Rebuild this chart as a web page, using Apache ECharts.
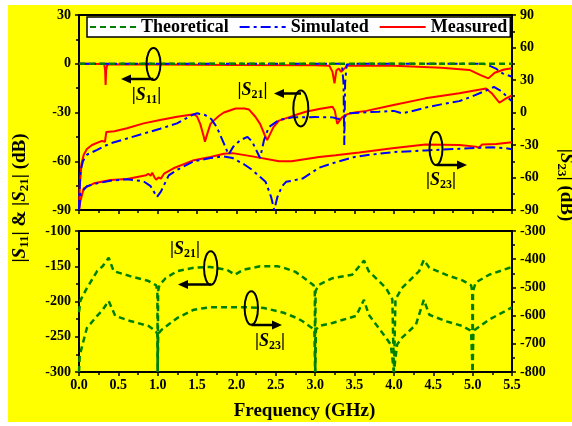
<!DOCTYPE html>
<html><head><meta charset="utf-8">
<script src="https://cdn.jsdelivr.net/npm/echarts@6/dist/echarts.min.js"></script>
<style>
html,body{margin:0;padding:0;background:#fff;width:572px;height:426px;overflow:hidden}
#bg{position:absolute;left:8px;top:5px;width:564px;height:417px;background:#ffff00}
#chart{position:absolute;left:0;top:0;width:572px;height:426px}
</style></head><body><div id="bg"></div><div id="chart"></div>
<script>
// ---------- data: [frequency (GHz), dB] ----------
const legendNames = ['Theoretical', 'Simulated', 'Measured'];

const s11Theory = [[0,0],[5.5,0]];
const s11Sim = [[0,0],[3.3,0],[3.34,-0.5],[3.36,-12],[3.37,-50],[3.38,-12],[3.40,-0.5],[3.5,0],[5.05,0],[5.17,-0.3],[5.29,-2.8],[5.38,-5.9],[5.5,-8]];
const s11Meas = [[0,0],[0.32,-0.2],[0.332,-4],[0.338,-13],[0.345,-4],[0.36,-0.3],[1,-0.4],[2,-0.8],[3.0,-0.9],[3.18,-1.2],[3.22,-5],[3.245,-12],[3.27,-4],[3.3,-3],[3.33,-5],[3.37,-3],[3.41,-1.2],[4,-1.3],[4.6,-2.4],[4.96,-3.8],[5.1,-7],[5.2,-9],[5.28,-5.5],[5.4,-3.5],[5.5,-2.8]];

const s21Sim = [[0,-90],[0.005,-80],[0.02,-66],[0.05,-60],[0.1,-56],[0.23,-53],[0.33,-50.5],[0.4,-49],[0.61,-46],[0.82,-43],[1.03,-40],[1.245,-36.7],[1.44,-31.5],[1.5,-30.5],[1.6,-31.5],[1.68,-34],[1.75,-39],[1.84,-49],[1.9,-56],[1.96,-51],[2.05,-47],[2.14,-45],[2.2,-48],[2.3,-58],[2.35,-47],[2.41,-39],[2.54,-34.6],[2.71,-33],[3.0,-32.8],[3.22,-33],[3.3,-34],[3.36,-33],[3.43,-30.5],[3.6,-30],[3.81,-29.5],[4.0,-29],[4.1,-30.5],[4.2,-29.5],[4.4,-27],[4.6,-25],[4.83,-23],[5.0,-20],[5.17,-16.5],[5.27,-14.3],[5.37,-17],[5.45,-21],[5.5,-23]];
const s21Meas = [[0,-90],[0.01,-75],[0.03,-62],[0.06,-56],[0.1,-52.5],[0.165,-50],[0.29,-47.5],[0.33,-48],[0.34,-48.5],[0.347,-42],[0.37,-42.5],[0.45,-41.5],[0.61,-39.7],[0.82,-36.7],[1.03,-34.6],[1.245,-32.6],[1.46,-31.1],[1.5,-32.5],[1.54,-37],[1.58,-44],[1.6,-48],[1.63,-43],[1.67,-37],[1.71,-35],[1.78,-32],[1.84,-30],[1.99,-27.5],[2.1,-27.5],[2.16,-28.2],[2.24,-32.6],[2.3,-37],[2.36,-44],[2.39,-47],[2.43,-43],[2.47,-39],[2.54,-35],[2.71,-32.2],[2.88,-29.5],[3.05,-27.8],[3.22,-26.4],[3.25,-29],[3.28,-37],[3.31,-35],[3.34,-33],[3.41,-31],[3.5,-30],[3.65,-29],[3.98,-25.5],[4.4,-21.3],[4.83,-18.2],[5.17,-15.2],[5.25,-18.5],[5.34,-24],[5.42,-21.5],[5.5,-19.5]];

const s23Sim = [[0,-90],[0.02,-75],[0.1,-68],[0.23,-65.4],[0.4,-63],[0.61,-61.6],[0.82,-63.5],[0.91,-68],[0.99,-78],[1.04,-73],[1.08,-67],[1.14,-58],[1.245,-53],[1.46,-45],[1.67,-42],[1.84,-40.5],[1.95,-42],[2.1,-48],[2.2,-53],[2.37,-64],[2.44,-78],[2.48,-90],[2.52,-78],[2.58,-68],[2.63,-64],[2.84,-61],[3.05,-51],[3.26,-46],[3.5,-41],[3.7,-39],[4.0,-36.5],[4.4,-35],[4.83,-33.5],[5.25,-32],[5.42,-33],[5.5,-34]];
const s23Meas = [[0,-90],[0.017,-82],[0.06,-70],[0.19,-65.4],[0.4,-62.3],[0.61,-61.4],[0.82,-58.3],[0.85,-58],[0.88,-56.5],[0.91,-58.5],[0.93,-55.5],[0.96,-60],[0.98,-62],[1.01,-60],[1.04,-61],[1.08,-56.5],[1.2,-51.5],[1.46,-44],[1.67,-41],[1.84,-38],[1.95,-37.5],[2.2,-40.5],[2.54,-45],[2.7,-45],[3.05,-41],[3.26,-39.5],[3.56,-37],[3.98,-33],[4.4,-29.5],[4.83,-30],[5.04,-31.5],[5.08,-32.5],[5.12,-29.5],[5.3,-29],[5.5,-27.5]];

const s21TheoryLow = [[0,-215],[0.02,-198],[0.1,-181],[0.23,-157],[0.3,-150],[0.377,-138],[0.44,-157],[0.65,-164],[0.885,-171],[0.98,-177],[0.995,-185],[1.0,-300],[1.005,-185],[1.02,-177],[1.1,-167],[1.245,-157],[1.46,-152],[1.67,-151],[1.88,-155],[1.98,-162],[2.09,-155],[2.3,-150],[2.52,-150],[2.6,-152],[2.75,-158],[2.85,-166],[2.98,-177],[2.995,-185],[3.0,-300],[3.005,-185],[3.05,-176],[3.22,-167],[3.47,-162],[3.62,-142],[3.68,-157],[3.9,-181],[3.98,-197],[4.0,-300],[4.02,-197],[4.1,-181],[4.32,-157],[4.38,-141],[4.45,-152],[4.66,-162],[4.87,-170],[4.98,-177],[4.995,-185],[5.0,-300],[5.005,-185],[5.04,-173],[5.21,-162],[5.5,-151]];
const s23TheoryLow = [[0,-800],[0.01,-740],[0.1,-644],[0.23,-601],[0.3,-580],[0.377,-548],[0.46,-601],[0.65,-619],[0.885,-637],[0.97,-654],[0.995,-665],[1.0,-800],[1.005,-665],[1.05,-650],[1.245,-609],[1.46,-579],[1.67,-570],[2.09,-570],[2.35,-573],[2.6,-590],[2.77,-609],[2.84,-620],[2.99,-650],[3.0,-800],[3.01,-650],[3.05,-637],[3.22,-626],[3.52,-601],[3.62,-544],[3.68,-597],[3.9,-679],[3.96,-703],[4.0,-800],[4.04,-703],[4.1,-679],[4.28,-632],[4.38,-544],[4.45,-597],[4.66,-620],[4.87,-637],[4.98,-654],[5.0,-800],[5.01,-654],[5.06,-644],[5.21,-614],[5.5,-571]];

// ---------- styling ----------
const FONT = 'Liberation Serif';
const GREEN = '#008000', BLUE = '#0000ff', RED = '#ff0000';
const DASH = [6, 4], DASHDOT = [10, 4, 3, 4];

function mk(name, data, gi, yi, color, type, width, z) {
  return { name, type: 'line', data, xAxisIndex: gi, yAxisIndex: yi, symbol: 'none',
    showSymbol: false, z: z, animation: false, color,
    lineStyle: { color, type, width } };
}

const tickStyle = { color: '#000', width: 1.5 };
function xAx(gi, showLabel) {
  return { type: 'value', gridIndex: gi, min: 0, max: 5.5, interval: 0.5,
    splitLine: { show: false },
    axisLine: { onZero: false, lineStyle: { color: '#000', width: 2 } },
    axisTick: { length: 4, lineStyle: tickStyle },
    minorTick: { show: true, splitNumber: 2, length: 3, lineStyle: tickStyle },
    axisLabel: { show: showLabel, formatter: v => v.toFixed(1), color: '#000',
      fontFamily: FONT, fontWeight: 'bold', fontSize: 14, margin: 6 } };
}
function yAx(gi, pos, min, max, interval) {
  return { type: 'value', gridIndex: gi, position: pos, min, max, interval,
    splitLine: { show: false },
    axisLine: { show: true, onZero: false, lineStyle: { color: '#000', width: 2 } },
    axisTick: { show: true, length: 4, lineStyle: tickStyle },
    minorTick: { show: true, splitNumber: 2, length: 3, lineStyle: tickStyle },
    axisLabel: { color: '#000', fontFamily: FONT, fontWeight: 'bold', fontSize: 14, margin: 8 } };
}

// ---------- annotations (ellipse + arrow + label) ----------
const annots = [
  { cx: 153.5, cy: 64, rx: 7, ry: 16, ay: 79, ax0: 153.5, ax1: 121, sub: '11', lx: 146.5, ly: 95 },
  { cx: 300.8, cy: 108.5, rx: 7.5, ry: 18, ay: 93.5, ax0: 301, ax1: 274, sub: '21', lx: 252.5, ly: 90 },
  { cx: 436, cy: 148.5, rx: 6.5, ry: 16.5, ay: 165, ax0: 436.5, ax1: 467, sub: '23', lx: 441, ly: 180 },
  { cx: 210.7, cy: 268, rx: 6.7, ry: 16.7, ay: 284.5, ax0: 211, ax1: 178, sub: '21', lx: 185, ly: 249 },
  { cx: 251.3, cy: 308, rx: 6.7, ry: 16.7, ay: 325, ax0: 251.5, ax1: 282, sub: '23', lx: 270, ly: 341 }
];
const richS = (size, sub) => ({
  s: { fontFamily: FONT, fontWeight: 'bold', fontStyle: 'italic', fontSize: size, lineHeight: size + 4, fill: '#000' },
  b: { fontFamily: FONT, fontWeight: 'bold', fontSize: sub, lineHeight: sub + 2, verticalAlign: 'bottom', fill: '#000' },
  n: { fontFamily: FONT, fontWeight: 'bold', fontSize: size, lineHeight: size + 4, fill: '#000' }
});
const graphics = [];
annots.forEach(a => {
  graphics.push({ type: 'ellipse', z: 50, shape: { cx: a.cx, cy: a.cy, rx: a.rx, ry: a.ry },
    style: { fill: 'transparent', stroke: '#000', lineWidth: 2 } });
  const dir = a.ax1 > a.ax0 ? 1 : -1;
  graphics.push({ type: 'line', z: 50, shape: { x1: a.ax0, y1: a.ay, x2: a.ax1 - dir * 6, y2: a.ay },
    style: { stroke: '#000', lineWidth: 2.5 } });
  graphics.push({ type: 'polygon', z: 50,
    shape: { points: [[a.ax1, a.ay], [a.ax1 - dir * 10, a.ay - 4.5], [a.ax1 - dir * 10, a.ay + 4.5]] },
    style: { fill: '#000' } });
  graphics.push({ type: 'text', z: 50, x: a.lx, y: a.ly,
    style: { text: '{n||}{s|S}{b|' + a.sub + '}{n||}', rich: richS(18, 12),
      fontFamily: FONT, fontWeight: 'bold', fontSize: 18, fill: '#000', align: 'center', verticalAlign: 'middle' } });
});
// axis titles
graphics.push({ type: 'text', z: 50, x: 20, y: 198, rotation: Math.PI / 2,
  style: { text: '{n||}{s|S}{b|11}{n|| & |}{s|S}{b|21}{n|| (dB)}', rich: richS(19, 13),
    fontFamily: FONT, fontWeight: 'bold', fontSize: 19, fill: '#000', align: 'center', verticalAlign: 'middle' } });
graphics.push({ type: 'text', z: 50, x: 566, y: 185, rotation: -Math.PI / 2,
  style: { text: '{n||}{s|S}{b|23}{n|| (dB)}', rich: richS(19, 13),
    fontFamily: FONT, fontWeight: 'bold', fontSize: 19, fill: '#000', align: 'center', verticalAlign: 'middle' } });
graphics.push({ type: 'text', z: 50, x: 304.5, y: 411,
  style: { text: 'Frequency (GHz)', fontFamily: FONT, fontWeight: 'bold', fontSize: 19, fill: '#000',
    align: 'center', verticalAlign: 'middle' } });

const chart = echarts.init(document.getElementById('chart'), null, { renderer: 'canvas' });
chart.setOption({
  animation: false,
  backgroundColor: 'transparent',
  grid: [
    { left: 79, right: 60, top: 15, height: 195, show: true, borderColor: '#000', borderWidth: 2, backgroundColor: 'transparent' },
    { left: 79, right: 60, top: 231, height: 141, show: true, borderColor: '#000', borderWidth: 2, backgroundColor: 'transparent' }
  ],
  legend: {
    data: legendNames, left: 87, top: 17, orient: 'horizontal',
    backgroundColor: '#fff', borderColor: '#000', borderWidth: 1.5, padding: [1, 3, 1, 2],
    itemWidth: 46, itemHeight: 14, itemGap: 10, selectedMode: false,
    itemStyle: { opacity: 0, color: 'transparent', borderColor: 'transparent', borderWidth: 0 },
    textStyle: { fontFamily: FONT, fontWeight: 'bold', fontSize: 18, color: '#000' }
  },
  xAxis: [xAx(0, false), xAx(1, true)],
  yAxis: [
    yAx(0, 'left', -90, 30, 30),
    yAx(0, 'right', -90, 90, 30),
    yAx(1, 'left', -300, -100, 50),
    yAx(1, 'right', -800, -300, 100)
  ],
  series: [
    mk('Measured', s21Meas, 0, 0, RED, 'solid', 2, 3),
    mk('Measured', s23Meas, 0, 1, RED, 'solid', 2, 3),
    mk('Simulated', s21Sim, 0, 0, BLUE, DASHDOT, 2, 4),
    mk('Simulated', s23Sim, 0, 1, BLUE, DASHDOT, 2, 4),
    mk('Measured', s11Meas, 0, 0, RED, 'solid', 2, 3),
    mk('Simulated', s11Sim, 0, 0, BLUE, DASHDOT, 2, 4),
    mk('Theoretical', s11Theory, 0, 0, GREEN, DASH, 2.5, 5),
    mk('Theoretical', s21TheoryLow, 1, 2, GREEN, DASH, 2.5, 5),
    mk('Theoretical', s23TheoryLow, 1, 3, GREEN, DASH, 2.5, 5)
  ],
  graphic: graphics
});
</script></body></html>
